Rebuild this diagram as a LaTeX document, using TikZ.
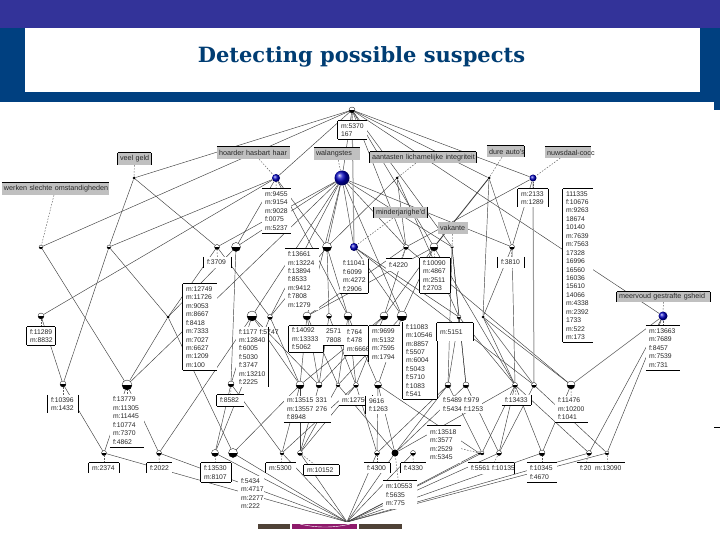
\documentclass[tikz,border=0pt]{standalone}
\usepackage{fontspec}
\setmainfont{Liberation Sans}
\newfontfamily\titlefont{DejaVu Serif}
\usetikzlibrary{backgrounds}
\definecolor{bandtop}{HTML}{333399}
\definecolor{bandblue}{HTML}{004080}
\definecolor{titleblue}{HTML}{003D73}
\definecolor{footbrown}{HTML}{4F4237}
\definecolor{footpurple}{HTML}{8E1A6B}
\definecolor{labgray}{HTML}{C0C0C0}
\tikzset{
  bdr/.style={draw=black,line width=0.9pt},
  bT/.style={append after command={(\tikzlastnode.north west) edge[bdr] (\tikzlastnode.north east)}},
  bB/.style={append after command={(\tikzlastnode.south west) edge[bdr] (\tikzlastnode.south east)}},
  bL/.style={append after command={(\tikzlastnode.north west) edge[bdr] (\tikzlastnode.south west)}},
  bR/.style={append after command={(\tikzlastnode.north east) edge[bdr] (\tikzlastnode.south east)}},
  lst/.style={fill=white,inner xsep=3pt,inner ysep=0pt,align=left,text=black!85,
    font=\fontsize{6.8}{8.45}\selectfont},
  grayl/.style={lst,fill=labgray,inner xsep=2pt,font=\fontsize{7.2}{8.45}\selectfont},
  halfn/.style={circle,minimum size=#1,inner sep=0pt,draw=black,line width=0.3pt,fill=white,
    path picture={\fill[black] (path picture bounding box.west) rectangle (path picture bounding box.south east);}},
  solidn/.style={circle,minimum size=#1,inner sep=0pt,fill=black},
  bluen/.style={circle,minimum size=#1,inner sep=0pt,ball color=blue!75!black},
  lk/.style={draw=black!75,line width=0.45pt},
  thickgray/.style={draw=black!40,line width=1pt},
  stem/.style={draw=black!65,line width=0.45pt,dash pattern=on 1.5pt off 1.5pt},
}
\newcommand{\lstbox}[7][]{%
  \pgfmathsetmacro{\bxw}{#5-#3}\pgfmathsetmacro{\bxh}{#6-#4}%
  \pgfmathsetmacro{\bxc}{(#3+#5)/2}\pgfmathsetmacro{\byc}{(#4+#6)/2}%
  \pgfmathsetmacro{\btw}{\bxw-6}%
  \node[lst,#1,minimum height=\bxh pt,text width=\btw pt] (#2) at (\bxc,\byc) {#7};%
}
\begin{document}
\begin{tikzpicture}[x=1pt,y=-1pt]
\useasboundingbox (0,0) rectangle (720,540);
\begin{scope}[on background layer]
\fill[white] (0,0) rectangle (720,540);
\end{scope}
% header
\fill[bandblue] (0,28) rectangle (720,102);
\fill[bandblue] (714,102) rectangle (720,110);
\fill[bandtop] (0,0) rectangle (720,28.5);
\fill[white] (24.5,28.5) rectangle (700,92);
\node[text=titleblue,font=\titlefont\bfseries\fontsize{21}{24}\selectfont,inner sep=0pt] (title) at (361.5,57) {Detecting possible suspects};
\fill[black] (714,426.6) rectangle (720,427.4);
% footer
\fill[footbrown] (258,524) rectangle (290,529);
\fill[footpurple] (292,524) rectangle (357,529);
\fill[footbrown] (359,524) rectangle (402,529);
\draw[white,line width=0.4pt] (300,524) .. controls (315,528) and (335,528) .. (350,524);
% gray attribute labels
\lstbox[grayl,bT]{lwer}{1}{183}{110}{195}{\mbox{werken slechte omstandigheden}}
\lstbox[grayl,bT,bL,bR]{lvee}{117}{153}{152}{165}{\mbox{veel geld}}
\lstbox[grayl,bT]{lhoa}{216}{147}{291}{159}{\mbox{hoarder hasbart haar}}
\lstbox[grayl,bT]{lwal}{313}{148}{361}{160}{\mbox{walangstes}}
\lstbox[grayl,bT,bL,bR]{laan}{369}{152}{477}{163}{\mbox{aantasten lichamelijke integriteit}}
\lstbox[grayl,bT,bR]{ldur}{486}{146}{525}{157}{\mbox{dure auto's}}
\lstbox[grayl,bT]{lnuw}{544}{147}{592}{158}{\mbox{nuwsdaal-cocc}}
\lstbox[grayl,bL,bR]{lmin}{373}{207}{428}{218}{\mbox{minderjarighe'd}}
\lstbox[grayl]{lvak}{437}{222}{469}{234}{vakante}
\lstbox[grayl,bL,bR,bT]{lmee}{616}{292}{711}{302}{\mbox{meervoud gestrafte gsheid}}
% white lists
\lstbox[bT,bL,bB]{l1}{338}{121}{367}{139}{m:5370\\167}
\lstbox[bT,bB]{l2}{262}{189}{291}{233}{m:9455\\m:9154\\m:9028\\f:0075\\m:5237}
\lstbox[bT,bL,bR]{l3}{518}{189}{548}{207}{m:2133\\m:1289}
\lstbox[bT,bL,bB]{l4}{563}{189}{593}{342}{111335\\f:10676\\m:9263\\18674\\10140\\m:7639\\m:7563\\17328\\16996\\16560\\16036\\15610\\14066\\m:4338\\m:2392\\1733\\m:522\\m:173}
\lstbox[bL,bR]{l5}{204}{257}{231}{268}{f:3709}
\lstbox[bT,bL,bB]{l6}{183}{284}{217}{370}{m:12749\\m:11726\\m:9053\\m:8667\\f:8418\\m:7333\\m:7027\\m:6627\\m:1209\\m:100}
\lstbox[bT,bL,bB,bR]{l7}{27}{327}{55}{345}{f:11289\\m:8832}
\lstbox[bL,bR]{l8}{48}{395}{78}{413}{f:10396\\m:1432}
\lstbox[bB]{l9}{110}{394}{144}{447}{f:13779\\m:11305\\m:11445\\f:10774\\m:7370\\f:4862}
\lstbox[bT,bL,bR]{l10}{89}{463}{119}{473}{m:2374}
\lstbox[bT,bL]{l11}{147}{463}{172}{473}{f:2022}
\lstbox[bT,bL,bB,bR]{l12}{201}{463}{231}{482}{f:13530\\m:8107}
\lstbox[bL,bB,bT]{l13}{217}{395}{244}{406}{f:8582}
\lstbox[bR]{l14}{236}{327}{268}{387}{f:1177~f:5747\\m:12840\\f:6005\\f:5030\\f:3747\\m:13210\\f:2225}
\lstbox[bT,bL,bB,bR]{l15}{289}{326}{323}{352}{f:14092\\m:13333\\f:5062}
\lstbox[bT,bR,bB]{l16}{323}{326}{344}{345}{2571\\7808}
\lstbox[bT,bB]{l17}{344}{326}{368}{355}{f:764\\f:478\\m:6666}
\lstbox[bT,bL]{l18}{369}{326}{400}{362}{m:9699\\m:5132\\m:7595\\m:1794}
\lstbox[bL,bR,bB]{l19}{403}{322}{437}{399}{f:11083\\m:10546\\m:8857\\f:5507\\m:6004\\f:5043\\f:5710\\f:1083\\f:541}
\lstbox[bT,bL,bR]{l20}{437}{323}{473}{341}{m:5151}
\lstbox[bT,bL,bB,bR]{l21}{420}{258}{450}{293}{f:10090\\m:4867\\m:2511\\f:2703}
\lstbox[bR,bB]{l22}{340}{259}{368}{293}{f:11041\\f:6099\\m:4272\\f:2906}
\lstbox[bT]{l23}{285}{249}{319}{310}{f:13661\\m:13224\\f:13894\\f:8533\\m:9412\\f:7808\\m:1279}
\lstbox[bT]{l24}{386}{259}{412}{271}{f:4220}
\lstbox[bL,bR]{l25}{498}{257}{524}{268}{f:3810}
\lstbox[bT,bB]{l26}{646}{326}{680}{370}{m:13663\\m:7689\\f:8457\\m:7539\\m:731}
\lstbox[bB,bR]{l27}{502}{395}{531}{405}{f:13433}
\lstbox[bB]{l28}{555}{396}{588}{422}{f:11476\\m:10200\\f:1041}
\lstbox[bB]{l29}{284}{396}{331}{422}{m:13515~331\\m:13557~276\\f:8948}
\lstbox[bB,bR]{l30}{339}{395}{372}{405}{m:12750}
\lstbox[bL]{l31}{366}{396}{388}{414}{9616\\f:1263}
\lstbox[]{l32}{440}{396}{482}{413}{f:5489~f:979\\f:5434~f:1253}
\lstbox[bT]{l33}{427}{426}{461}{463}{m:13518\\m:3577\\m:2529\\m:5345}
\lstbox[bT,bL]{l34}{266}{463}{296}{473}{m:5300}
\lstbox[bT,bL,bB,bR]{l35}{304}{465}{339}{475}{m:10152}
\lstbox[bT,bR]{l36}{364}{463}{390}{473}{f:4300}
\lstbox[bT,bL]{l37}{401}{463}{426}{473}{f:4330}
\lstbox[bT]{l38}{383}{481}{417}{509}{m:10553\\f:5635\\m:775}
\lstbox[bT,bR]{l39}{468}{463}{514}{474}{f:5561~f:10135}
\lstbox[bT,bB]{l40}{527}{463}{557}{482}{f:10345\\f:4670}
\lstbox[bT,bR]{l41}{577}{463}{592}{473}{f:20}
\lstbox[bT]{l42}{592}{463}{625}{473}{m:13090}
\lstbox[]{l43}{238}{476}{264}{511}{f:5434\\m:4717\\m:2277\\m:222}
% lattice nodes
\node[halfn=6] (T) at (352,110) {};
\node[solidn=3] (V) at (134,178) {};
\node[bluen=8] (hb) at (276,178) {};
\node[bluen=15] (wa) at (342,178) {};
\node[solidn=3] (dk) at (397,178) {};
\node[solidn=3] (du) at (489,178) {};
\node[bluen=7] (nu) at (533,178) {};
\node[halfn=4] (a1) at (41,247) {};
\node[halfn=4] (a2) at (109,247) {};
\node[halfn=5] (a3) at (217,247) {};
\node[halfn=9] (a4) at (236,247) {};
\node[halfn=9] (a5) at (327,247) {};
\node[bluen=8] (a6) at (354,247) {};
\node[halfn=5] (a7) at (406,247) {};
\node[halfn=8] (a8) at (434,247) {};
\node[halfn=3] (a9) at (452,247) {};
\node[halfn=5] (a10) at (512,247) {};
\node[halfn=6] (b1) at (41,316) {};
\node[solidn=3] (b2) at (168,317) {};
\node[halfn=10] (b3) at (252,316) {};
\node[halfn=5] (b4) at (270,317) {};
\node[halfn=8] (b5) at (307,316) {};
\node[halfn=5] (b6) at (329,316) {};
\node[halfn=8] (b7) at (348,316) {};
\node[halfn=8] (b8) at (384,316) {};
\node[halfn=10] (b9) at (402,316) {};
\node[halfn=4] (b10) at (459,317) {};
\node[solidn=3] (b11) at (483,317) {};
\node[bluen=9] (b12) at (663,316) {};
\node[halfn=6] (c1) at (63,384) {};
\node[halfn=10] (c2) at (127,385) {};
\node[halfn=6] (c3) at (231,384) {};
\node[halfn=8] (c4) at (300,385) {};
\node[halfn=6] (c5) at (319,385) {};
\node[halfn=4] (c6) at (338,385) {};
\node[halfn=5] (c7) at (356,385) {};
\node[halfn=7] (c8) at (378,385) {};
\node[halfn=6] (c9) at (448,385) {};
\node[halfn=6] (c10) at (466,385) {};
\node[halfn=5] (c11) at (515,385) {};
\node[halfn=5] (c12) at (534,385) {};
\node[halfn=8] (c13) at (571,385) {};
\node[halfn=5] (d1) at (104,453) {};
\node[halfn=5] (d2) at (159,453) {};
\node[halfn=7] (d3) at (215,453) {};
\node[halfn=9] (d4) at (233,453) {};
\node[halfn=4] (d5) at (282,453) {};
\node[halfn=5] (d6) at (300,453) {};
\node[halfn=5] (d7) at (377,453) {};
\node[solidn=7] (d8) at (395,453) {};
\node[halfn=5] (d9) at (413,453) {};
\node[halfn=3] (d10) at (479,453) {};
\node[halfn=4] (d11) at (482,453) {};
\node[halfn=5] (d12) at (499,453) {};
\node[halfn=6] (d13) at (542,453) {};
\node[halfn=5] (d14) at (589,453) {};
\node[halfn=4] (d15) at (607,453) {};
\node[inner sep=0pt,minimum size=1pt] (Bot) at (347,522) {};
\begin{scope}[on background layer]
\foreach \a/\b in {T/V,T/hb,T/wa,T/a1,T/du,T/nu,T/a7,T/a8,T/a9,T/b12,
 V/a2,V/a3,hb/a2,hb/b1,hb/a4,hb/a5,hb/b7,
 wa/a3,wa/a4,wa/a5,wa/a6,wa/a7,wa/a9,wa/a10,wa/c2,wa/b3,wa/b4,wa/b5,wa/b9,
 dk/a5,dk/a7,dk/b10,du/a10,du/b11,nu/a7,nu/a10,
 b12/c13,b12/d14,b12/d15,a1/c2,a2/c1,a2/b2,a3/b2,a3/b4,a4/b2,a4/c3,
 a5/b4,a5/b6,a5/b7,a6/b9,a6/b10,a6/c12,a7/b5,a7/b8,a7/c13,
 a8/b5,a8/b8,a8/b9,a8/c11,a9/b10,a9/c9,a9/c10,a10/b11,a10/c11,
 b1/c1,b2/c2,b2/d4,b3/d2,b3/c4,b3/c5,b3/c3,b4/d3,b4/c4,b5/c4,b5/c5,b5/c6,
 b6/c5,b6/c7,b7/c6,b7/c7,b7/c8,b8/c4,b8/c5,b8/c7,b9/c8,b9/c6,
 b10/c9,b10/c10,b10/c11,b11/c11,b11/c12,b11/c13,
 c1/d1,c2/d1,c2/d2,c3/d3,c3/d5,c4/d4,c4/d5,c4/d6,c5/d6,c6/d6,c6/d8,c7/d6,c7/d7,c7/d5,
 c8/d8,c8/d7,c8/d10,c9/d8,c9/d11,c9/d7,c10/d8,c10/d12,c11/d8,c11/d11,c11/d12,c11/d14,c11/d13,
 c12/d12,c12/d15,c13/d13,
 d1/Bot,d2/Bot,d3/Bot,d4/Bot,d5/Bot,d6/Bot,d7/Bot,d8/Bot,d9/Bot,d10/Bot,d11/Bot,d12/Bot,d13/Bot,d14/Bot,d15/Bot}
  {\draw[lk] (\a) -- (\b);}
\draw[lk,line width=0.9pt] (du) -- (a8);
\draw[thickgray] (T) -- (a6);
\draw[thickgray] (nu) -- (c12);
\foreach \a/\b in {lwer/a1,lvee/V,lhoa/hb,lwal/wa,laan/dk,ldur/du,lnuw/nu,lmin/a6,lvak/a9,lmee/b12,
 l1/T,l2/hb,l3/nu,l5/a3,l7/b1,l8/c1,l9/c2,l10/d1,l11/d2,l12/d3,l13/c3,l21/a8,l24/a7,l25/a10,l26/b12,
 l27/c11,l28/c13,l34/d5,l35/d6,l36/d7,l37/d9,l38/d8,l39/d12,l40/d13,l41/d14,l42/d15,l33/d10}
  {\draw[stem] (\a) -- (\b);}
\end{scope}
\end{tikzpicture}
\end{document}
